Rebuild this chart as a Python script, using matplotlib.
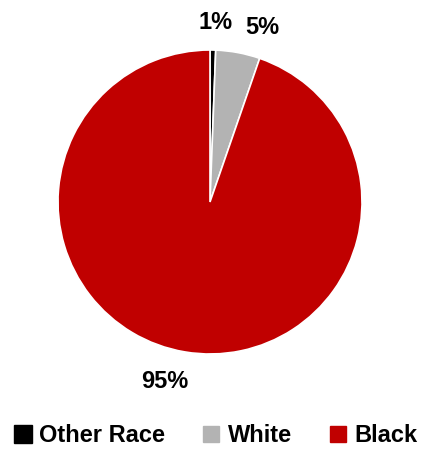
import matplotlib
matplotlib.use("Agg")
import matplotlib.pyplot as plt
import numpy as np
from matplotlib.lines import Line2D

categories = ["Other Race", "White", "Black"]
values = [0.6, 4.7, 94.7]
colors = ["#000000", "#B3B3B3", "#C00000"]

FONT = ['Liberation Sans', 'DejaVu Sans']
plt.rcParams['font.family'] = FONT

fig = plt.figure(figsize=(4.22, 4.51), dpi=100)
ax = fig.add_axes([58/422, 97/451, 304/422, 304/451])
wedges, _ = ax.pie(values, colors=colors, startangle=90, counterclock=False,
                   wedgeprops=dict(edgecolor='white', linewidth=1.2))
ax.set_aspect('equal')
ax.set_xlim(-1, 1)
ax.set_ylim(-1, 1)

# label placement: distance and angular nudge per label
dists = [1.18, 1.2, 1.22]
nudges = [-0.8, -6.0, -4.5]
for w, v, d, n in zip(wedges, values, dists, nudges):
    ang = np.deg2rad((w.theta1 + w.theta2) / 2 + n)
    ax.text(d * np.cos(ang), d * np.sin(ang), f"{v:.0f}%", ha='center', va='center',
            fontsize=17, fontweight='bold', color='black')

msizes = [13, 11, 11]
handles = [Line2D([], [], marker='s', linestyle='none', markersize=m,
                  markerfacecolor=c, markeredgecolor=c) for c, m in zip(colors, msizes)]
fig.legend(handles, categories, loc='center', bbox_to_anchor=(215/422, 1 - 436/451),
           ncol=3, frameon=False, handletextpad=0.25, columnspacing=1.5,
           handlelength=0.9, prop=dict(family=FONT, weight='bold', size=17))
fig.savefig("out.png", dpi=100)
